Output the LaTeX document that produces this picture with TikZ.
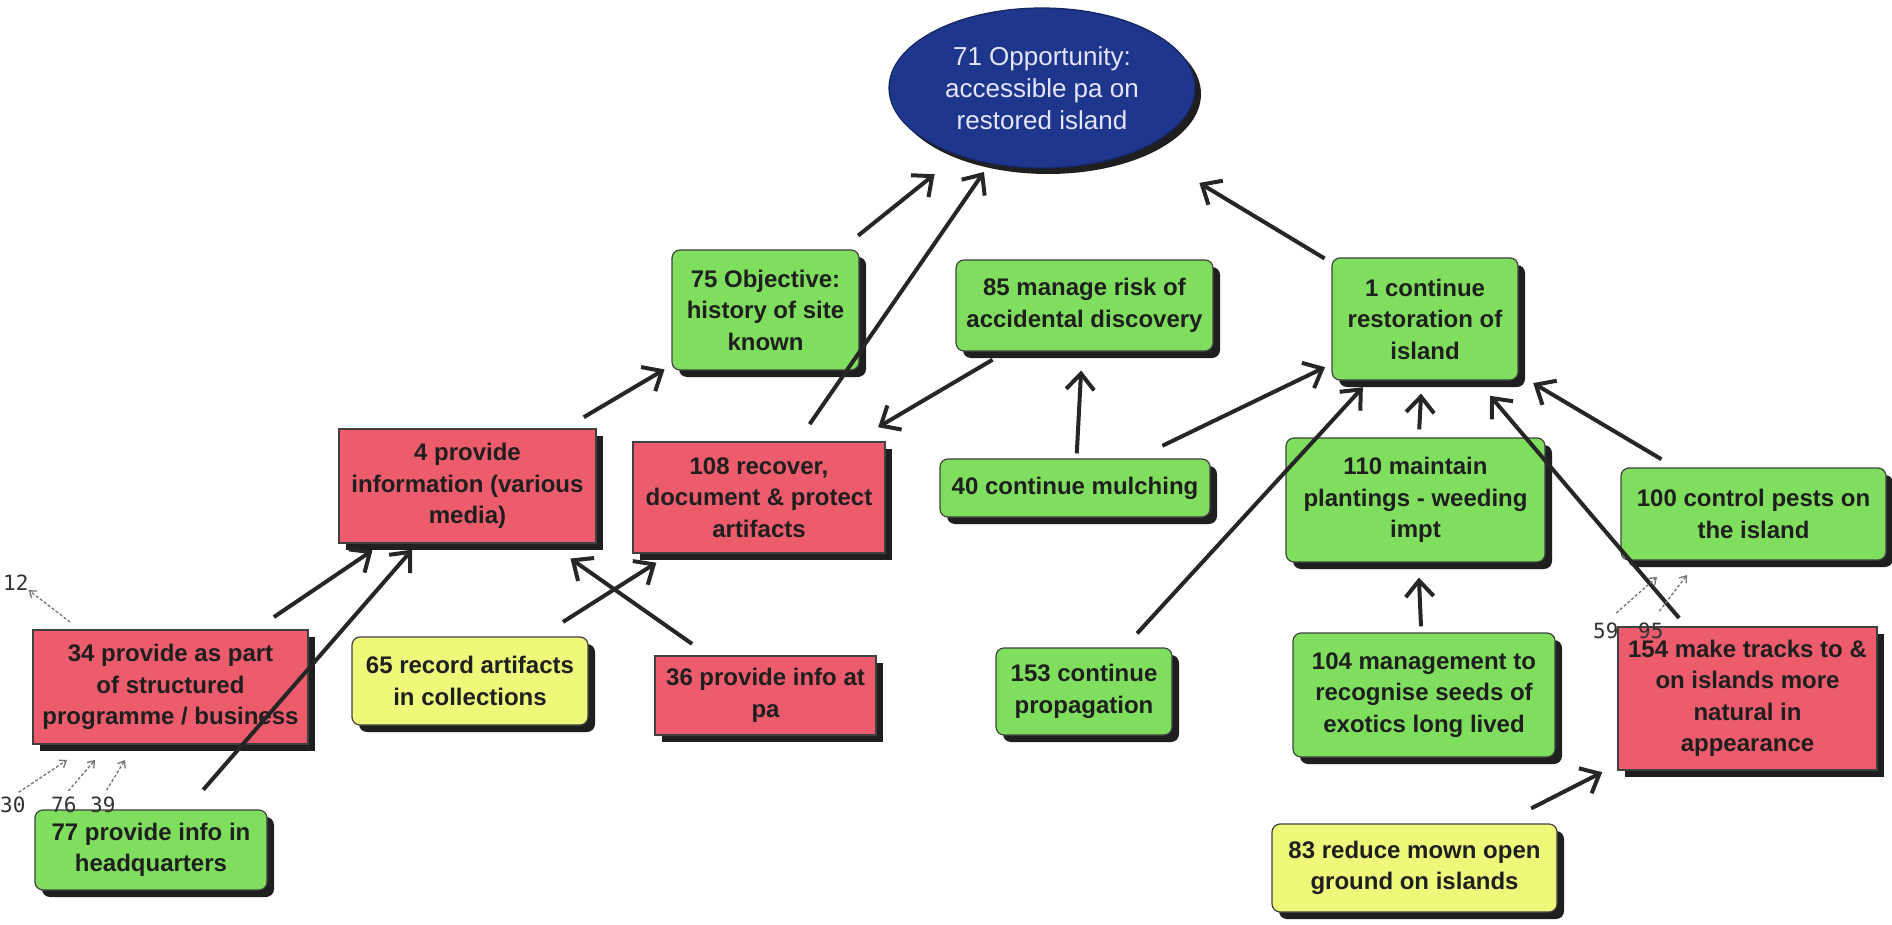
\documentclass[tikz,border=0pt]{standalone}
\usepackage{fontspec}
\setmainfont{Liberation Sans}
\newfontfamily\stubfont{DejaVu Sans Mono}
\usetikzlibrary{arrows.meta,shapes.geometric,shadows}

\definecolor{goalgreen}{RGB}{128,222,94}
\definecolor{riskred}{RGB}{236,92,108}
\definecolor{ideayellow}{RGB}{238,249,122}
\definecolor{oppnavy}{RGB}{30,54,140}

\begin{document}
\begin{tikzpicture}[x=1pt,y=-1pt,
  box/.style={draw=black!75, line width=1.2pt, text=black!88, align=center,
    inner sep=0pt, font=\fontsize{24}{31.5}\selectfont\bfseries,
    drop shadow={shadow xshift=7pt, shadow yshift=-7pt, opacity=1, fill=black!88}},
  gbox/.style={box, fill=goalgreen, rounded corners=8pt},
  rbox/.style={box, fill=riskred},
  ybox/.style={box, fill=ideayellow, rounded corners=8pt},
  opp/.style={ellipse, fill=oppnavy, draw=oppnavy!70!black, line width=1.2pt,
    inner sep=0pt, align=center, text=white!90!blue,
    font=\fontsize{26}{32}\selectfont,
    drop shadow={shadow xshift=6pt, shadow yshift=-6pt, opacity=1, fill=black!88}},
  link/.style={black!85, line width=4pt, -{Straight Barb[length=16pt,width=28pt]}},
  stub/.style={black!55, line width=1.3pt, densely dashed,
    -{Straight Barb[length=6pt,width=9pt]}},
  ref/.style={font=\stubfont\fontsize{21}{21}\selectfont, text=black!80, inner sep=0pt}]
  \useasboundingbox[fill=white] (0,0) rectangle (1892,925);

  % --- Opportunity (ellipse) ---
  \node[opp, minimum width=306pt, minimum height=160pt] (n71) at (1042,88)
    {71 Opportunity:\\accessible pa on\\restored island};

  % --- Upper row ---
  \node[gbox, minimum width=187pt, minimum height=120pt] (n75) at (765.5,310)
    {75 Objective:\\history of site\\known};
  \node[gbox, minimum width=257pt, minimum height=91pt] (n85) at (1084.5,305.5)
    {85 manage risk of\\accidental discovery};
  \node[gbox, minimum width=186pt, minimum height=122pt] (n1) at (1425,319)
    {1 continue\\restoration of\\island};

  % --- Middle row ---
  \node[rbox, minimum width=257pt, minimum height=114pt] (n4) at (467.5,486)
    {4 provide\\information (various\\media)};
  \node[rbox, minimum width=252pt, minimum height=111pt] (n108) at (759,497.5)
    {108 recover,\\document \& protect\\artifacts};
  \node[gbox, minimum width=270pt, minimum height=58pt] (n40) at (1075,488)
    {40 continue mulching};
  \node[gbox, minimum width=259pt, minimum height=124pt] (n110) at (1415.5,500)
    {110 maintain\\plantings - weeding\\impt};
  \node[gbox, minimum width=265pt, minimum height=92pt] (n100) at (1753.5,514)
    {100 control pests on\\the island};

  % --- Lower row ---
  \node[rbox, minimum width=275pt, minimum height=114pt] (n34) at (170.5,687)
    {34 provide as part\\of structured\\programme / business};
  \node[ybox, minimum width=236pt, minimum height=88pt] (n65) at (470,681)
    {65 record artifacts\\in collections};
  \node[rbox, minimum width=221pt, minimum height=79pt] (n36) at (765.5,695.5)
    {36 provide info at\\pa};
  \node[gbox, minimum width=176pt, minimum height=87pt] (n153) at (1084,691.5)
    {153 continue\\propagation};
  \node[gbox, minimum width=262pt, minimum height=124pt] (n104) at (1424,695)
    {104 management to\\recognise seeds of\\exotics long lived};
  \node[rbox, minimum width=259pt, minimum height=143pt] (n154) at (1747.5,698.5)
    {154 make tracks to \&\\on islands more\\natural in\\appearance};

  % --- Bottom row ---
  \node[gbox, minimum width=232pt, minimum height=80pt] (n77) at (151,850)
    {77 provide info in\\headquarters};
  \node[ybox, minimum width=285pt, minimum height=88pt] (n83) at (1414.5,868)
    {83 reduce mown open\\ground on islands};

  % --- Links (drawn over the boxes) ---
  \draw[link, shorten <=22pt, shorten >=30pt] (n75) -- (n71);
  \draw[link, shorten <=21pt, shorten >=10pt] (n108) -- (n71);
  \draw[link, shorten <=8pt, shorten >=66pt] (n1) -- (n71);
  \draw[link, shorten <=22pt, shorten >=8pt] (n4) -- (n75);
  \draw[link, shorten <=16pt, shorten >=28pt] (n85) -- (n108);
  \draw[link, shorten <=5pt, shorten >=19pt] (n40) -- (n85);
  \draw[link, shorten <=29pt, shorten >=7pt] (n40) -- (n1);
  \draw[link, shorten <=19pt, shorten >=9pt] (n153) -- (n1);
  \draw[link, shorten <=8pt, shorten >=13pt] (n110) -- (n1);
  \draw[link, shorten <=11pt, shorten >=20pt] (n154) -- (n1);
  \draw[link, shorten <=16pt, shorten >=17pt] (n100) -- (n1);
  \draw[link, shorten <=6pt, shorten >=15pt] (n104) -- (n110);
  \draw[link, shorten <=33pt, shorten >=17pt] (n83) -- (n154);
  \draw[link, shorten <=22pt, shorten >=12pt] (n34) -- (n4);
  \draw[link, shorten <=26pt, shorten >=8pt] (n77) -- (n4);
  \draw[link, shorten <=20pt, shorten >=26pt] (n36) -- (n4);
  \draw[link, shorten <=27pt, shorten >=17pt] (n65) -- (n108);

  % --- Links to concepts off this map ---
  \node[ref, anchor=base west] (l12) at (3,590) {12};
  \node[ref, anchor=base west] (l30) at (0,812) {30};
  \node[ref, anchor=base west] (l76) at (51,812) {76};
  \node[ref, anchor=base west] (l39) at (90,812) {39};
  \node[ref, anchor=base west] (l59) at (1593,638) {59};
  \node[ref, anchor=base west] (l95) at (1638,638) {95};
  \coordinate (f12) at (70,622);
  \coordinate (t30) at (67,760);
  \coordinate (t76) at (95,760);
  \coordinate (t39) at (125,760);
  \coordinate (t59) at (1657,577);
  \coordinate (t95) at (1687,575);
  \draw[stub] (f12) -- (l12.south east);
  \draw[stub, shorten <=7pt] (l30.north) -- (t30);
  \draw[stub, shorten <=7pt] (l76.north) -- (t76);
  \draw[stub, shorten <=7pt] (l39.north) -- (t39);
  \draw[stub, shorten <=14pt] (l59.north) -- (t59);
  \draw[stub, shorten <=14pt] (l95.north) -- (t95);
\end{tikzpicture}
\end{document}
